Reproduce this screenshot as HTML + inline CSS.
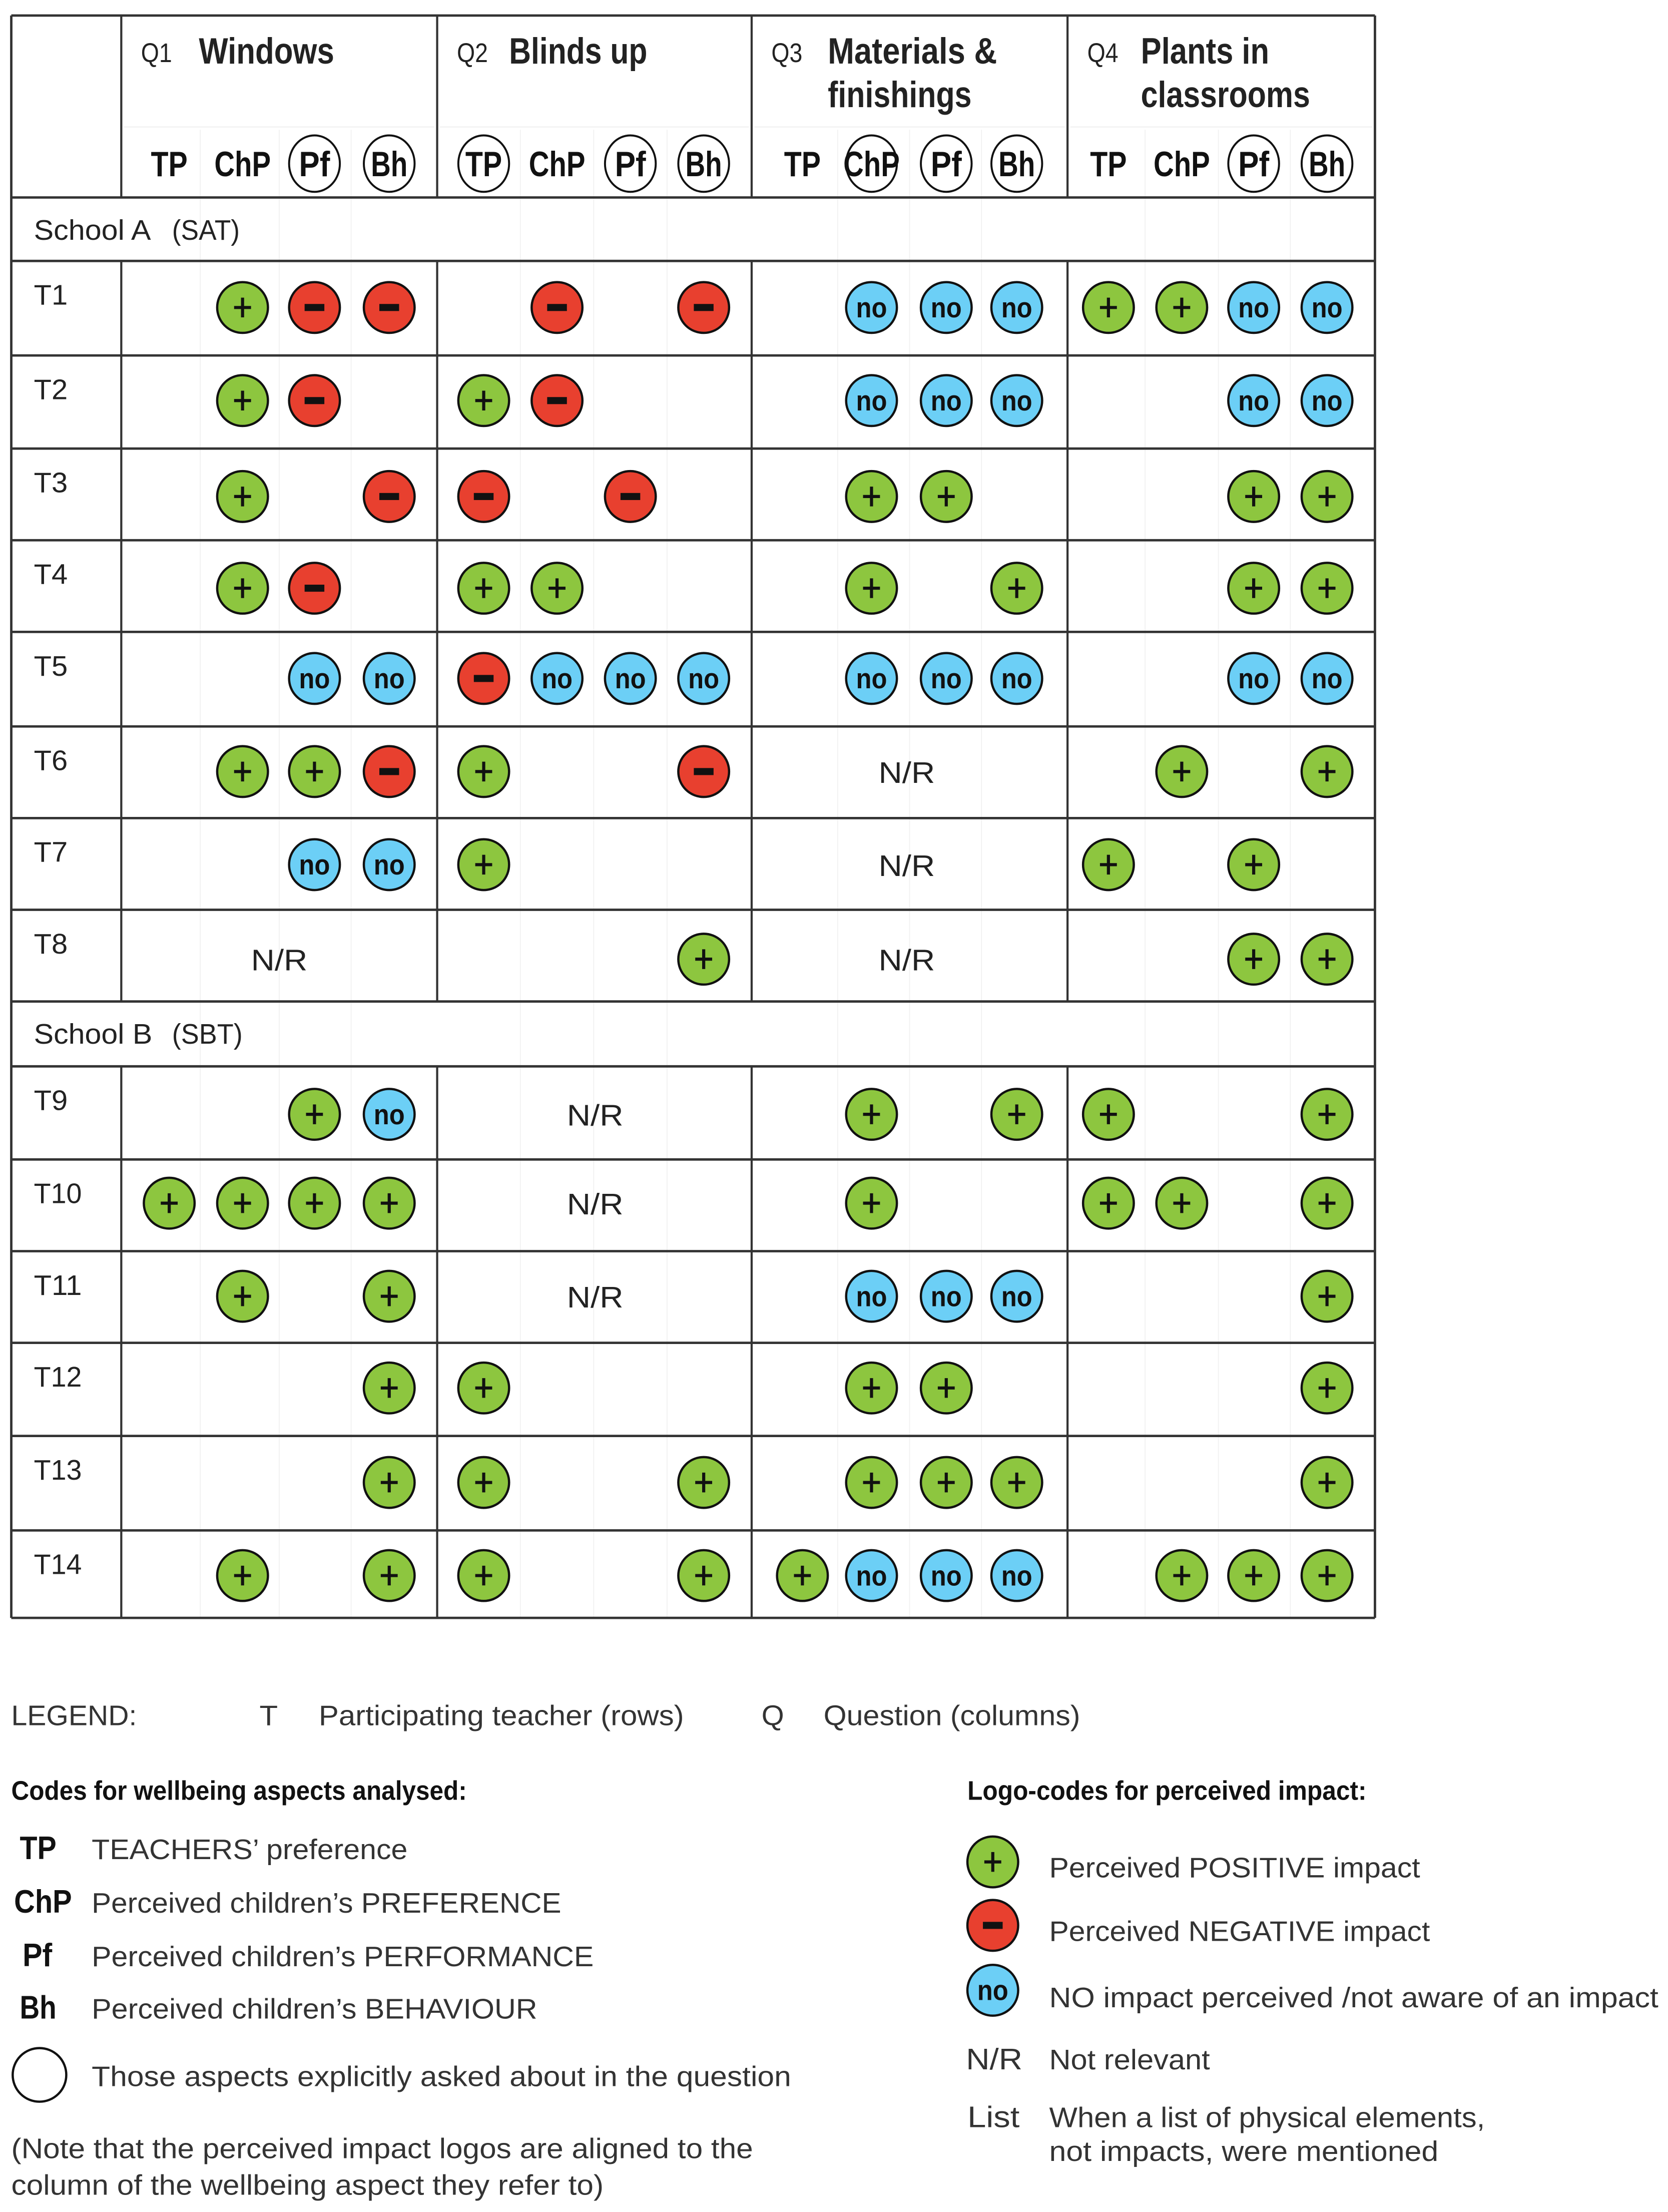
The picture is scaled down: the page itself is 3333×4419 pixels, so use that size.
<!DOCTYPE html>
<html><head><meta charset="utf-8"><style>html,body{margin:0;padding:0;background:#fff}svg{display:block}</style></head>
<body>
<svg id="s" xmlns="http://www.w3.org/2000/svg" width="3333" height="4419" viewBox="0 0 1182.8 1568.2" preserveAspectRatio="none" font-family="'Liberation Sans', sans-serif"></svg>
<script>
const S=document.getElementById('s');const NS='http://www.w3.org/2000/svg';
function el(n,a,p){const e=document.createElementNS(NS,n);for(const k in a)e.setAttribute(k,a[k]);(p||S).appendChild(e);return e;}
function t(x,y,s,size,len,bold,anchor,fill){const a={x:x,y:y,'font-size':size,fill:fill||'#222'};if(bold)a['font-weight']='bold';if(len){a.textLength=len;a.lengthAdjust='spacingAndGlyphs';}if(anchor)a['text-anchor']=anchor;const e=el('text',a);e.textContent=s;return e;}
function line(x1,y1,x2,y2,w,c){el('line',{x1,y1,x2,y2,stroke:c||'#333','stroke-width':w||1.6});}
const G='#8dc63f',R='#e8402f',B='#6ccff6';
function sym(type,cx,cy,r){r=r||18;
 el('ellipse',{cx:cx,cy:cy,rx:r,ry:r,fill:type=='+'?G:type=='-'?R:B,stroke:'#111','stroke-width':1.6});
 if(type=='+'){line(cx-6,cy,cx+6,cy,2.2,'#111');line(cx,cy-7,cx,cy+7,2.2,'#111');}
 else if(type=='-'){el('rect',{x:cx-7,y:cy-2.5,width:14,height:5,fill:'#111'});}
 else{t(cx,cy+7,'no',20,22,true,'middle','#111');}
}
// faint sub-column lines
const qs=[[86,310],[310,533],[533,757],[757,975]];
const cols=[[120,172,223,276],[343,395,447,499],[569,618,671,721],[786,838,889,941]];
const subl=[[142,198,249],[369,421,473],[594,645,696],[812,864,915]];
subl.forEach(a=>a.forEach(x=>line(x,92,x,1147,0.6,'#f0f0f0')));
qs.forEach(q=>line(q[0]+2,90,q[1]-2,90,0.8,'#f0f0f0'));
// horizontal lines
const hl=[11,140,185,252,318,383,448,515,580,645,710,756,822,887,952,1018,1085,1147];
hl.forEach(y=>line(8,y,975,y,1.7));
line(8,11,8,1147,1.7);line(975,11,975,1147,1.7);
// vertical lines excluding school header rows
[[11,140],[185,710],[756,1147]].forEach(seg=>{[86,310,533,757].forEach(x=>line(x,seg[0],x,seg[1],1.5));});
// header
const H=[['Q1','Windows',null,141,96],['Q2','Blinds up',null,361,98],['Q3','Materials &','finishings',587,120],['Q4','Plants in','classrooms',809,91]];
const hl2=[null,null,102,120];
H.forEach((h,i)=>{t(qs[i][0]+14,44,h[0],19,22,false);t(h[3],45,h[1],26,h[4],true);if(h[2])t(h[3],76,h[2],26,hl2[i],true);});
const labs=['TP','ChP','Pf','Bh'],lw=[26,40,22,26];
const circ=[[2,3],[0,2,3],[1,2,3],[2,3]];
cols.forEach((c,i)=>c.forEach((x,j)=>{if(circ[i].includes(j))el('ellipse',{cx:x,cy:116,rx:18,ry:20,fill:'none',stroke:'#111','stroke-width':1.4});t(x,125,labs[j],25,lw[j],true,'middle','#111');}));
// school headers
t(24,170,'School A',20,83);t(122,170,'(SAT)',20,48);
t(24,740,'School B',20,84);t(122,740,'(SBT)',20,50);
// rows
const rows=[
['T1',185,218,'.+--','.-.-','.ooo','++oo'],
['T2',252,284,'.+-.','+-..','.ooo','..oo'],
['T3',318,352,'.+.-','-.-.','.++.','..++'],
['T4',383,417,'.+-.','++..','.+.+','..++'],
['T5',448,481,'..oo','-ooo','.ooo','..oo'],
['T6',515,547,'.++-','+..-','NR','.+.+'],
['T7',580,613,'..oo','+...','NR','+.+.'],
['T8',645,680,'NR','...+','NR','..++'],
['T9',756,790,'..+o','NR','.+.+','+..+'],
['T10',822,853,'++++','NR','.+..','++.+'],
['T11',887,919,'.+.+','NR','.ooo','...+'],
['T12',952,984,'...+','+...','.++.','...+'],
['T13',1018,1051,'...+','+..+','.+++','...+'],
['T14',1085,1117,'.+.+','+..+','+ooo','.+++']];
const nrx=[198,422,643,866];
rows.forEach(r=>{t(24,r[1]+31,r[0],20,r[0].length==2?24:34);
 for(let q=0;q<4;q++){const s=r[3+q];if(s=='NR'){t(nrx[q],r[2]+8,'N/R',21,40,false,'middle');continue;}
  for(let j=0;j<4;j++){const c=s[j];if(c!='.')sym(c,cols[q][j],r[2]);}}});
// legend
const dg='#333';
t(8,1223,'LEGEND:',20,89,false,null,dg);t(184,1223,'T',20,13,false,null,dg);t(226,1223,'Participating teacher (rows)',20,259,false,null,dg);
t(540,1223,'Q',20,16,false,null,dg);t(584,1223,'Question (columns)',20,182,false,null,dg);
t(8,1276,'Codes for wellbeing aspects analysed:',19,323,true,null,'#111');
t(14,1318,'TP',23,26,true,null,'#111');t(65,1318,'TEACHERS\u2019 preference',20,224,false,null,dg);
t(10,1356,'ChP',23,41,true,null,'#111');t(65,1356,'Perceived children\u2019s PREFERENCE',20,333,false,null,dg);
t(16,1394,'Pf',23,21,true,null,'#111');t(65,1394,'Perceived children\u2019s PERFORMANCE',20,356,false,null,dg);
t(14,1431,'Bh',23,26,true,null,'#111');t(65,1431,'Perceived children\u2019s BEHAVIOUR',20,316,false,null,dg);
el('ellipse',{cx:28,cy:1471,rx:19,ry:19,fill:'none',stroke:'#111','stroke-width':1.6});
t(65,1479,'Those aspects explicitly asked about in the question',20,496,false,null,dg);
t(8,1530,'(Note that the perceived impact logos are aligned to the',20,526,false,null,dg);
t(8,1556,'column of the wellbeing aspect they refer to)',20,420,false,null,dg);
t(686,1276,'Logo-codes for perceived impact:',19,283,true,null,'#111');
sym('+',704,1320);sym('-',704,1365);sym('o',704,1411);
t(744,1331,'Perceived POSITIVE impact',20,263,false,null,dg);
t(744,1376,'Perceived NEGATIVE impact',20,270,false,null,dg);
t(744,1423,'NO impact perceived /not aware of an impact',20,432,false,null,dg);
t(685,1467,'N/R',21,40,false,null,dg);t(744,1467,'Not relevant',20,114,false,null,dg);
t(686,1508,'List',21,37,false,null,dg);t(744,1508,'When a list of physical elements,',20,309,false,null,dg);
t(744,1532,'not impacts, were mentioned',20,276,false,null,dg);
</script>
</body></html>
